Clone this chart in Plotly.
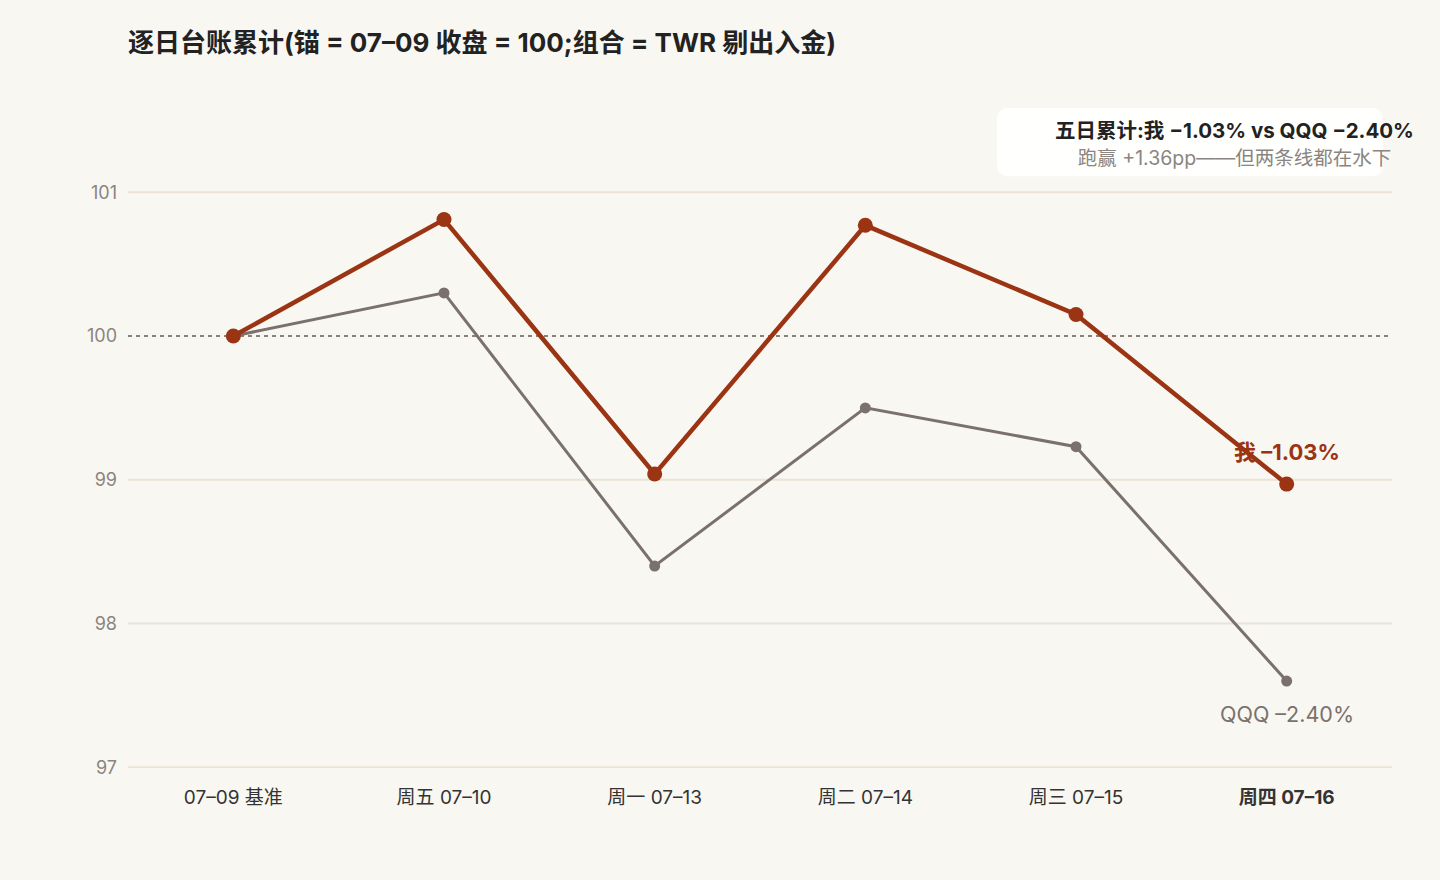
import plotly.graph_objects as go

DAYS = ["07–09 基准", "周五 07–10", "周一 07–13", "周二 07–14", "周三 07–15", "<b>周四 07–16</b>"]
ME = [100.0, 100.81, 99.04, 100.77, 100.15, 98.97]
QQQ = [100.0, 100.30, 98.40, 99.50, 99.23, 97.60]
Y_TICKS = [97, 98, 99, 100, 101]

RED = "#9b3413"
GREY = "#7a716c"
BG = "#f9f7f2"
GRID = "#ebe3d5"
FONT = "Inter, Noto Sans CJK SC"

fig = go.Figure()

# grid lines drawn by hand so the 100 line can be dotted instead
for v in Y_TICKS:
    if v == 100:
        fig.add_hline(y=v, line=dict(color="#8a817a", width=2, dash="4px,4px"), layer="below")
    else:
        fig.add_hline(y=v, line=dict(color=GRID, width=2), layer="below")

fig.add_trace(go.Scatter(
    x=DAYS, y=QQQ, mode="lines+markers", name="QQQ",
    line=dict(color=GREY, width=3),
    marker=dict(size=11, color=GREY),
    hoverinfo="skip", showlegend=False,
))
fig.add_trace(go.Scatter(
    x=DAYS, y=ME, mode="lines+markers", name="我",
    line=dict(color=RED, width=4.5),
    marker=dict(size=15, color=RED),
    hoverinfo="skip", showlegend=False,
))

# end labels
fig.add_annotation(x=DAYS[-1], y=ME[-1], text="<b>我 –1.03%</b>", showarrow=False,
                   yshift=32, font=dict(family=FONT, size=22, color=RED))
fig.add_annotation(x=DAYS[-1], y=QQQ[-1], text="QQQ –2.40%", showarrow=False,
                   yshift=-33, font=dict(family=FONT, size=21.5, color=GREY))

# summary box (rounded)
x0, x1, y0, y1 = 0.6875, 0.993, 0.894, 0.997
rx, ry = 12 / 1264, 12 / 662
box = (f"M {x0 + rx},{y0} L {x1 - rx},{y0} Q {x1},{y0} {x1},{y0 + ry} "
       f"L {x1},{y1 - ry} Q {x1},{y1} {x1 - rx},{y1} L {x0 + rx},{y1} "
       f"Q {x0},{y1} {x0},{y1 - ry} L {x0},{y0 + ry} Q {x0},{y0} {x0 + rx},{y0} Z")
fig.add_shape(type="path", path=box, xref="paper", yref="paper",
              fillcolor="rgba(255,255,255,0.9)", line=dict(width=0), layer="above")
fig.add_annotation(xref="paper", yref="paper", x=0.875, y=0.943,
                   xanchor="center", yanchor="middle",
                   text="<b>五日累计:我 −1.03% vs QQQ −2.40%</b><br>"
                        "<span style='color:#8a8580;font-size:19.5px'>跑赢 +1.36pp——但两条线都在水下</span>",
                   showarrow=False, align="center",
                   font=dict(family=FONT, size=20.5, color="#222222"))

fig.update_layout(
    width=1440, height=880,
    paper_bgcolor=BG, plot_bgcolor=BG,
    margin=dict(l=128, r=48, t=106, b=112),
    font=dict(family=FONT, color="#333333"),
    title=dict(text="<b>逐日台账累计(锚 = 07–09 收盘 = 100;组合 = TWR 剔出入金)</b>",
               x=128 / 1440, xanchor="left", y=1 - 43 / 880, yanchor="middle",
               font=dict(family=FONT, size=26, color="#222222")),
)
fig.update_xaxes(
    type="category", range=[-0.5, 5.5], showgrid=False, zeroline=False,
    showline=False, ticks="", ticklabelstandoff=16,
    tickfont=dict(family=FONT, size=19, color="#333333"),
)
fig.update_yaxes(
    range=[96.995, 101.6], tickvals=Y_TICKS, showgrid=False,
    zeroline=False, showline=False, ticks="", ticklabelstandoff=10,
    tickfont=dict(family=FONT, size=18, color="#8a8580"),
)

fig.write_html("out.html", config={"displayModeBar": False},
               post_script="document.body.style.margin='0';")
